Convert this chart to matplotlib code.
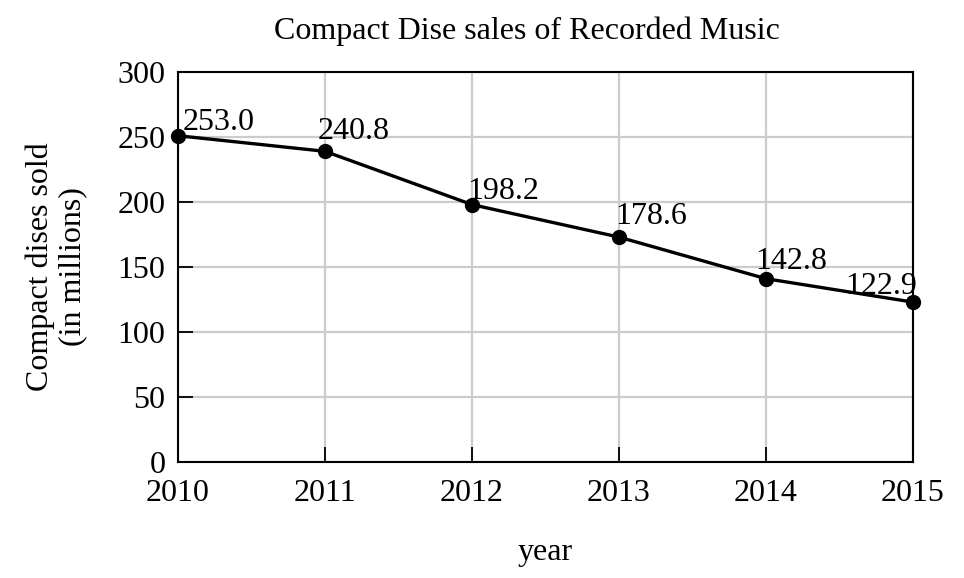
import matplotlib
matplotlib.use("Agg")
import matplotlib.pyplot as plt

# Data
years = [2010, 2011, 2012, 2013, 2014, 2015]
sales = [251.0, 239.0, 198.0, 173.0, 141.0, 123.0]   # plotted point heights
labels = ["253.0", "240.8", "198.2", "178.6", "142.8", "122.9"]
label_vals = [253.0, 240.8, 198.2, 178.6, 142.8, 122.9]
yticks = [0, 50, 100, 150, 200, 250, 300]

plt.rcParams["font.family"] = ["Liberation Serif", "DejaVu Serif"]
FS = 23

fig = plt.figure(figsize=(9.64, 5.78), dpi=100)
ax = fig.add_axes([0.1846, 0.2007, 0.7625, 0.6747])

ax.plot(years, sales, color="black", lw=2.4, marker="o", ms=10, zorder=3,
        clip_on=False)

# value labels: small offsets (points) from the labelled value
offsets = [(3.5, 2), (-5, 7), (-3.5, 4), (-3, 4), (-8, 5), (3, 6)]
for i, (x, v, s) in enumerate(zip(years, label_vals, labels)):
    ha = "right" if i == len(years) - 1 else "left"
    ax.annotate(s, (x, v), xytext=offsets[i], textcoords="offset points",
                ha=ha, va="baseline", fontsize=FS, annotation_clip=False)

ax.set_xlim(2010, 2015)
ax.set_ylim(0, 300)
ax.set_xticks(years)
ax.set_yticks(yticks)
ax.grid(True, color="#cccccc", lw=1.6)
ax.set_axisbelow(True)
for sp in ax.spines.values():
    sp.set_linewidth(1.5)
ax.tick_params(direction="in", length=11, width=1.3, labelsize=FS)
ax.tick_params(axis="y", pad=9)
ax.tick_params(axis="x", pad=12)

ax.set_title("Compact Dise sales of Recorded Music", fontsize=FS, pad=24, x=0.475)
ax.set_xlabel("year", fontsize=FS, labelpad=22)
ax.set_ylabel("Compact dises sold\n(in millions)", fontsize=FS, labelpad=22,
              linespacing=1.15)

fig.savefig("out.png", dpi=100)
